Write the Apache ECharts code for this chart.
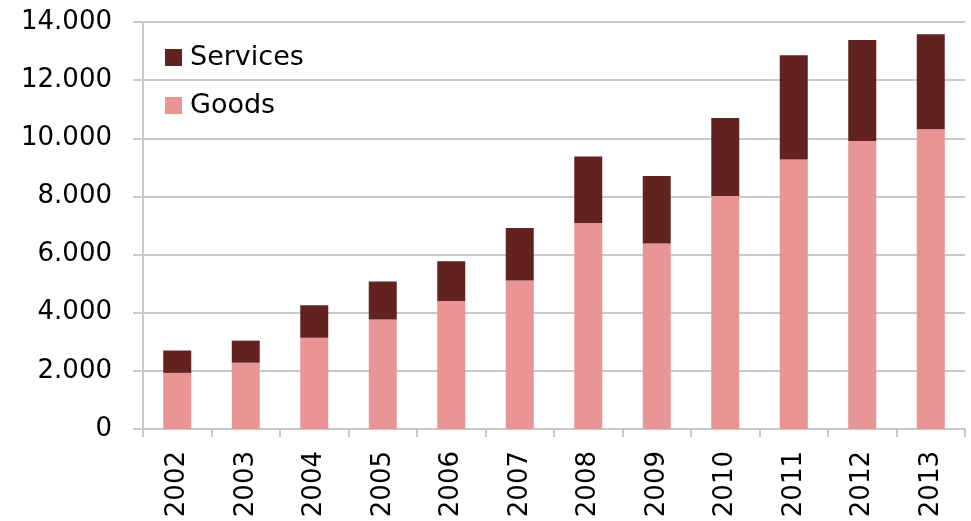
<!DOCTYPE html>
<html>
<head>
<meta charset="utf-8">
<script src="https://cdn.jsdelivr.net/npm/echarts@6/dist/echarts.min.js"></script>
<style>
  html, body { margin: 0; padding: 0; background: #ffffff; }
  #chart { width: 971px; height: 521px; }
</style>
</head>
<body>
<div id="chart"></div>
<script>
// Trade volume by year, split into goods and services
const years = ['2002','2003','2004','2005','2006','2007','2008','2009','2010','2011','2012','2013'];
const goods = [1930, 2280, 3140, 3770, 4400, 5105, 7090, 6380, 8015, 9270, 9910, 10310];
const totals = [2700, 3040, 4255, 5070, 5770, 6910, 9370, 8700, 10700, 12860, 13380, 13580];
const services = totals.map((t, i) => t - goods[i]);

const yTicks = [0, 2000, 4000, 6000, 8000, 10000, 12000, 14000];

const FONT = 'DejaVu Sans';
const GRID_COLOR = '#C9C9C9';

// 12000 -> "12.000"
function fmt(v) {
  return String(v).replace(/\B(?=(\d{3})+(?!\d))/g, '.');
}

const chart = echarts.init(document.getElementById('chart'), null, { renderer: 'canvas' });

chart.setOption({
  animation: false,
  backgroundColor: '#ffffff',
  grid: { left: 143, right: 6, top: 22, bottom: 92, containLabel: false },
  legend: {
    orient: 'vertical',
    left: 165,
    top: 44,
    padding: 0,
    itemWidth: 17,
    itemHeight: 17,
    itemGap: 21,
    icon: 'rect',
    data: ['Services', 'Goods'],
    textStyle: { fontFamily: FONT, fontSize: 27, color: '#000000', lineHeight: 26, padding: [0, 0, 0, 3] }
  },
  xAxis: {
    type: 'category',
    data: years,
    boundaryGap: true,
    axisLine: { show: true, lineStyle: { color: GRID_COLOR, width: 2 } },
    axisTick: { show: true, alignWithLabel: false, length: 8, lineStyle: { color: GRID_COLOR, width: 2 } },
    axisLabel: { rotate: 90, margin: 22, fontFamily: FONT, fontSize: 26, color: '#000000', interval: 0 },
    splitLine: { show: false }
  },
  yAxis: {
    type: 'value',
    min: yTicks[0],
    max: yTicks[yTicks.length - 1],
    interval: 2000,
    axisLine: { show: true, lineStyle: { color: GRID_COLOR, width: 2 } },
    axisTick: { show: true, length: 10, lineStyle: { color: GRID_COLOR, width: 2 } },
    axisLabel: { margin: 31, fontFamily: FONT, fontSize: 26, color: '#000000', formatter: fmt },
    splitLine: { show: true, lineStyle: { color: GRID_COLOR, width: 2 } }
  },
  series: [
    {
      name: 'Goods',
      type: 'bar',
      stack: 'trade',
      barWidth: 28,
      data: goods,
      itemStyle: { color: '#E99596' }
    },
    {
      name: 'Services',
      type: 'bar',
      stack: 'trade',
      barWidth: 28,
      data: services,
      itemStyle: { color: '#622220' }
    }
  ]
});
</script>
</body>
</html>
